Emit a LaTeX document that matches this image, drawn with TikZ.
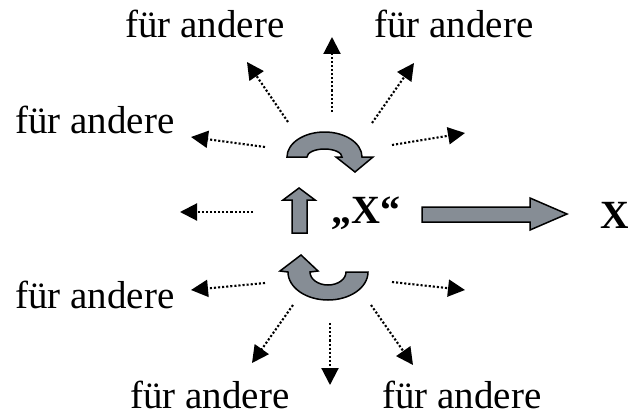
\documentclass[tikz,border=0pt]{standalone}
\usepackage{fontspec}
\setmainfont{Liberation Serif}
\usetikzlibrary{arrows.meta}
\definecolor{arrowgray}{RGB}{134,141,149}
\begin{document}
\begin{tikzpicture}[x=1pt,y=1pt,
  lbl/.style={inner sep=0pt, anchor=base, font=\fontsize{39}{44}\selectfont},
  bx/.style={inner sep=0pt, anchor=base west, font=\fontsize{40}{46}\selectfont\bfseries},
  dotarrow/.style={line width=2.1pt, dash pattern=on 2.1pt off 2pt, -{Triangle[length=17pt 0 0,width=17pt 0]}},
  block/.style={fill=arrowgray, draw=black, line width=1.5pt, line join=miter}
]
\useasboundingbox (0,0) rectangle (628,416);

% labels
\node[lbl] (fa1) at (205,378) {für andere};
\node[lbl] (fa2) at (454,378) {für andere};
\node[lbl] (fa3) at (95,283) {für andere};
\node[lbl] (fa4) at (95,108) {für andere};
\node[lbl] (fa5) at (210,8) {für andere};
\node[lbl] (fa6) at (462,8) {für andere};
\node[bx] (qx) at (331,193) {„X“};
\node[bx, anchor=base] (xr) at (615,188) {X};

% dotted arrows: start and tip coordinates
\coordinate (s1) at (332,304);  \coordinate (t1) at (332,379);
\coordinate (s2) at (288,294);  \coordinate (t2) at (247,354);
\coordinate (s3) at (372,293);  \coordinate (t3) at (414,353);
\coordinate (s4) at (265,269);  \coordinate (t4) at (191,279);
\coordinate (s5) at (392,271);  \coordinate (t5) at (465,283);
\coordinate (s6) at (253,204);  \coordinate (t6) at (180,204);
\coordinate (s7) at (265,133);  \coordinate (t7) at (191,126);
\coordinate (s8) at (392,134);  \coordinate (t8) at (465,126);
\coordinate (s9) at (293,111);  \coordinate (t9) at (252,53);
\coordinate (s10) at (330,93);  \coordinate (t10) at (330,31);
\coordinate (s11) at (371,111); \coordinate (t11) at (413,51);
\foreach \i in {1,...,11} \draw[dotarrow] (s\i) -- (t\i);

% upper rotating arrow
\draw[block] (287,259) arc[start angle=180,end angle=0,x radius=37.5,y radius=25]
  -- (373,259) -- (355,244) -- (336,259) -- (342,259)
  arc[start angle=0,end angle=180,x radius=17.5,y radius=8] -- cycle;

% lower rotating arrow
\draw[block] (368,144) arc[start angle=0,end angle=-180,x radius=40,y radius=28]
  -- (280,145) -- (301,161) -- (318,145) -- (310,144)
  arc[start angle=180,end angle=360,x radius=18,y radius=13] -- cycle;

% up arrow
\draw[block] (292,183) -- (292,216) -- (283,216) -- (299,228) -- (315,216)
  -- (307,216) -- (307,183) -- cycle;

% right block arrow
\draw[block] (422,194) -- (530,194) -- (530,186) -- (567,202) -- (530,218)
  -- (530,209) -- (422,209) -- cycle;
\end{tikzpicture}
\end{document}
